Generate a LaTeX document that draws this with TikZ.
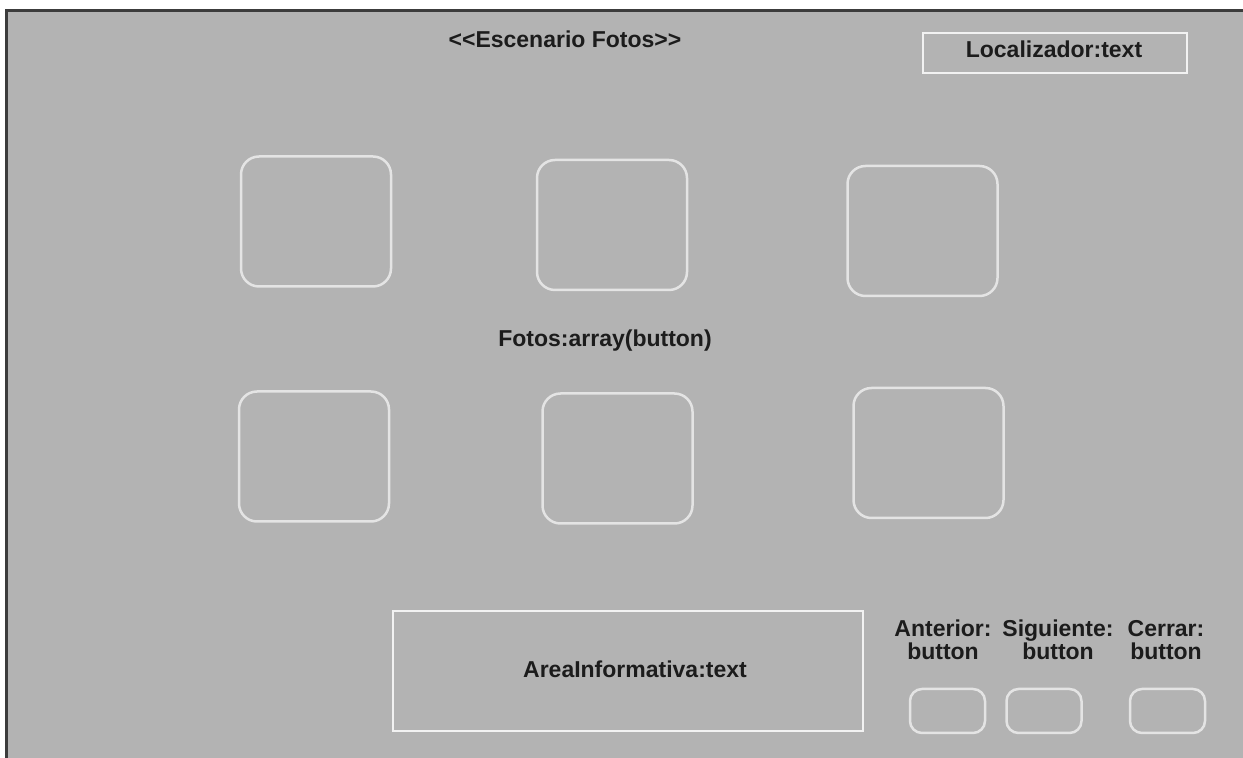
\documentclass[tikz,border=0pt]{standalone}
\usepackage{fontspec}
\setmainfont{Liberation Sans}
\definecolor{panel}{HTML}{B3B3B3}
\definecolor{frame}{HTML}{3C3C3C}
\definecolor{edge}{HTML}{E4E4E4}
\definecolor{boxline}{HTML}{F2F2F2}
\definecolor{txt}{HTML}{1C1C1C}
\begin{document}
\begin{tikzpicture}[x=0.5pt,y=-0.5pt,
  lbl/.style={font=\fontsize{11.5}{11.5}\selectfont\bfseries, text=txt, inner sep=0pt},
  photo/.style={draw=edge, line width=1.25pt, rounded corners=9pt,
    minimum width=75pt, minimum height=65pt, inner sep=0pt},
  smallbtn/.style={draw=edge, line width=1.25pt, rounded corners=6pt,
    minimum width=37.5pt, minimum height=22pt, inner sep=0pt},
  field/.style={draw=boxline, line width=1pt, inner sep=0pt}
]
\useasboundingbox (0,0) rectangle (1243,758);
% window background and frame
\fill[white] (0,0) rectangle (1243,758);
\fill[panel] (5,9) rectangle (1243,758);
\draw[frame, line width=1.5pt] (6,758) -- (6,10.5) -- (1243,10.5);

% title and locator field
\node[lbl, anchor=base] (title) at (565,48) {<{}<Escenario Fotos>{}>};
\node[field, minimum width=132pt, minimum height=20pt] (locbox) at (1055,53) {};
\node[lbl, anchor=base] (loc) at (1054,58) {Localizador:text};

% photo grid
\node[photo] (p1) at (316,221.5) {};
\node[photo] (p2) at (612,225) {};
\node[photo] (p3) at (922.5,231) {};
\node[lbl, anchor=base] (fotos) at (605,347) {Fotos:array(button)};
\node[photo] (p4) at (314,456.5) {};
\node[photo] (p5) at (617.5,458.5) {};
\node[photo] (p6) at (928.5,453) {};

% information area
\node[field, minimum width=235pt, minimum height=60pt] (areabox) at (628,671) {};
\node[lbl, anchor=base] (area) at (635,678) {AreaInformativa:text};

% navigation buttons
\node[lbl, align=center] (lant) at (943,640) {Anterior:\\button};
\node[lbl, align=center] (lsig) at (1058,640) {Siguiente:\\button};
\node[lbl, align=center] (lcer) at (1166,640) {Cerrar:\\button};
\node[smallbtn] (bant) at (947.5,711) {};
\node[smallbtn] (bsig) at (1044,711) {};
\node[smallbtn] (bcer) at (1167.5,711) {};
\end{tikzpicture}
\end{document}
